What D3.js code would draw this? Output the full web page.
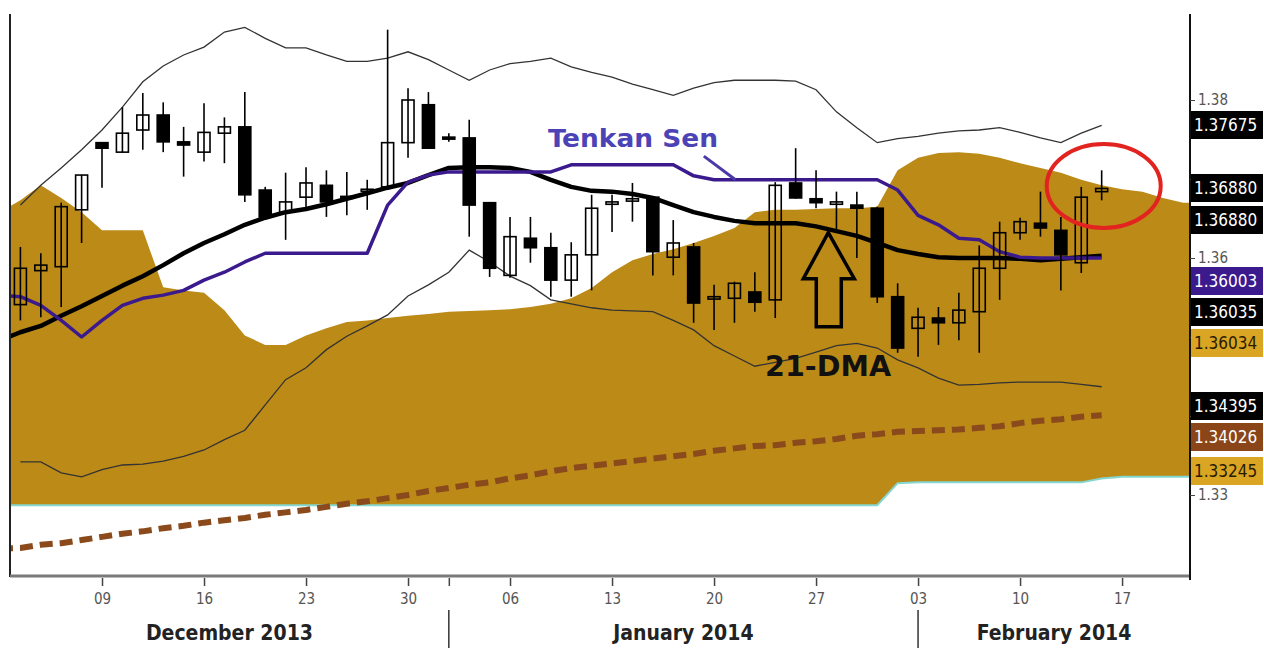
<!DOCTYPE html>
<html>
<head>
<meta charset="utf-8">
<script src="https://cdn.jsdelivr.net/npm/d3@7"></script>
<style>
  body { margin: 0; background: #fff; }
  svg { display: block; }
  text { font-family: "Liberation Sans Narrow", "DejaVu Sans Condensed", "Arial Narrow", sans-serif; }
</style>
</head>
<body>
<div id="chart"></div>
<script>
// trading days (weekdays) from Mon 2 Dec 2013 to Fri 21 Feb 2014
const days = d3.utcDay.range(new Date(Date.UTC(2013, 11, 2)), new Date(Date.UTC(2014, 1, 22)))
  .filter(d => d.getUTCDay() !== 0 && d.getUTCDay() !== 6);

// candles: 3 Dec 2013 .. 14 Feb 2014 (index 1..54)
const candleOpen = [1.3541,1.3584,1.3589,1.3661,1.3746,1.3734,1.3762,1.3781,1.3747,1.3734,
  1.3758,1.3766,1.3686,1.3658,1.3677,1.3692,1.3678,1.3685,1.3690,1.3746,
  1.3794,1.3753,1.3752,1.3670,1.3578,1.3625,1.3613,1.3572,1.3604,1.3668,
  1.3672,1.3677,1.3601,1.3614,1.3548,1.3549,1.3557,1.3547,1.3695,1.3675,
  1.3668,1.3667,1.3663,1.3551,1.3511,1.3524,1.3518,1.3532,1.3587,1.3632,
  1.3644,1.3635,1.3594,1.3684];
const candleHigh = [1.3614,1.3606,1.3670,1.3705,1.3746,1.3791,1.3809,1.3797,1.3766,1.3796,
  1.3778,1.3810,1.3690,1.3708,1.3715,1.3711,1.3709,1.3699,1.3889,1.3815,
  1.3810,1.3758,1.3775,1.3671,1.3652,1.3652,1.3632,1.3620,1.3680,1.3680,
  1.3695,1.3678,1.3648,1.3619,1.3566,1.3570,1.3582,1.3696,1.3739,1.3711,
  1.3684,1.3684,1.3665,1.3568,1.3537,1.3538,1.3556,1.3616,1.3646,1.3651,
  1.3684,1.3652,1.3690,1.3711];
const candleLow = [1.3521,1.3525,1.3538,1.3619,1.3689,1.3733,1.3737,1.3734,1.3703,1.3722,
  1.3720,1.3671,1.3651,1.3623,1.3661,1.3652,1.3654,1.3661,1.3686,1.3727,
  1.3738,1.3747,1.3627,1.3576,1.3575,1.3594,1.3551,1.3551,1.3559,1.3633,
  1.3646,1.3578,1.3578,1.3518,1.3509,1.3518,1.3532,1.3524,1.3675,1.3663,
  1.3635,1.3600,1.3543,1.3480,1.3475,1.3490,1.3496,1.3480,1.3547,1.3623,
  1.3627,1.3559,1.3581,1.3673];
const candleClose = [1.3587,1.3591,1.3665,1.3705,1.3739,1.3758,1.3781,1.3747,1.3743,1.3759,
  1.3766,1.3680,1.3652,1.3671,1.3695,1.3671,1.3676,1.3687,1.3746,1.3800,
  1.3739,1.3752,1.3667,1.3587,1.3627,1.3613,1.3572,1.3604,1.3663,1.3671,
  1.3675,1.3608,1.3619,1.3543,1.3551,1.3568,1.3544,1.3692,1.3676,1.3670,
  1.3671,1.3663,1.3551,1.3486,1.3525,1.3518,1.3534,1.3587,1.3632,1.3646,
  1.3638,1.3604,1.3677,1.3688];

// bollinger bands, index 1..54
const bandUpper = [1.3667,1.3692,1.3714,1.3737,1.3762,1.3791,1.3823,1.3843,1.3857,1.3867,
  1.3886,1.3892,1.3878,1.3866,1.3866,1.3857,1.3849,1.3849,1.3853,1.3861,
  1.3851,1.3838,1.3825,1.3838,1.3846,1.3849,1.3853,1.3842,1.3835,1.3829,
  1.3820,1.3813,1.3806,1.3815,1.3822,1.3825,1.3825,1.3825,1.3824,1.3813,
  1.3785,1.3765,1.3746,1.3751,1.3754,1.3758,1.3761,1.3762,1.3765,1.3759,
  1.3752,1.3746,1.3758,1.3768];
const bandLower = [1.3342,1.3342,1.3328,1.3323,1.3332,1.3338,1.3339,1.3343,1.3349,1.3357,
  1.3370,1.3382,1.3414,1.3446,1.3461,1.3484,1.3501,1.3514,1.3528,1.3552,
  1.3566,1.3582,1.3610,1.3595,1.3577,1.3565,1.3547,1.3542,1.3537,1.3534,
  1.3533,1.3532,1.3521,1.3509,1.3489,1.3476,1.3463,1.3468,1.3473,1.3481,
  1.3489,1.3492,1.3486,1.3471,1.3461,1.3448,1.3439,1.3440,1.3442,1.3443,
  1.3443,1.3443,1.3440,1.3437];

// 21-DMA, Tenkan Sen and long trend line, index 0..54
const dma21 = [1.3496,1.3506,1.3514,1.3527,1.3539,1.3552,1.3565,1.3577,1.3591,1.3606,
  1.3619,1.3630,1.3642,1.3651,1.3658,1.3662,1.3668,1.3675,1.3682,1.3689,
  1.3695,1.3705,1.3714,1.3715,1.3715,1.3714,1.3709,1.3699,1.3690,1.3685,
  1.3684,1.3681,1.3676,1.3667,1.3658,1.3652,1.3647,1.3644,1.3644,1.3644,
  1.3640,1.3634,1.3628,1.3619,1.3610,1.3605,1.3601,1.3600,1.3600,1.3600,
  1.3599,1.3597,1.3599,1.3601,1.3603];
const tenkan = [1.3553,1.3551,1.3540,1.3521,1.3500,1.3521,1.3540,1.3549,1.3553,1.3559,
  1.3572,1.3582,1.3595,1.3606,1.3606,1.3606,1.3606,1.3606,1.3606,1.3667,
  1.3696,1.3705,1.3709,1.3709,1.3709,1.3709,1.3709,1.3709,1.3718,1.3718,
  1.3718,1.3718,1.3718,1.3718,1.3704,1.3699,1.3699,1.3699,1.3699,1.3699,
  1.3699,1.3699,1.3699,1.3699,1.3686,1.3654,1.3642,1.3625,1.3623,1.3608,
  1.3601,1.3600,1.3600,1.3600,1.3600];
const trendLine = [1.3232,1.3233,1.3237,1.3239,1.3243,1.3247,1.3251,1.3254,1.3258,1.3261,
  1.3265,1.3268,1.3271,1.3275,1.3278,1.3281,1.3285,1.3289,1.3292,1.3296,
  1.3300,1.3305,1.3309,1.3313,1.3316,1.3321,1.3325,1.3330,1.3334,1.3337,
  1.3340,1.3343,1.3346,1.3349,1.3352,1.3356,1.3359,1.3362,1.3363,1.3366,
  1.3368,1.3371,1.3375,1.3377,1.3380,1.3381,1.3382,1.3383,1.3385,1.3387,
  1.3391,1.3394,1.3396,1.3399,1.3401];

// ichimoku cloud, index 0..59 (projected forward)
const cloudTop = [1.3658,1.3673,1.3692,1.3676,1.3658,1.3635,1.3635,1.3635,1.3563,1.3559,
  1.3556,1.3534,1.3502,1.3490,1.3490,1.3502,1.3511,1.3519,1.3521,1.3524,
  1.3527,1.3529,1.3532,1.3533,1.3534,1.3535,1.3538,1.3542,1.3549,1.3562,
  1.3582,1.3597,1.3605,1.3611,1.3619,1.3628,1.3638,1.3658,1.3661,1.3661,
  1.3662,1.3663,1.3663,1.3665,1.3711,1.3727,1.3733,1.3734,1.3732,1.3727,
  1.3720,1.3714,1.3708,1.3699,1.3692,1.3687,1.3684,1.3676,1.3670,1.3670];
const cloudBottom = [1.3287,1.3287,1.3287,1.3287,1.3287,1.3287,1.3287,1.3287,1.3287,1.3287,
  1.3287,1.3287,1.3287,1.3287,1.3287,1.3287,1.3287,1.3287,1.3287,1.3287,
  1.3287,1.3287,1.3287,1.3287,1.3287,1.3287,1.3287,1.3287,1.3287,1.3287,
  1.3287,1.3287,1.3287,1.3287,1.3287,1.3287,1.3287,1.3287,1.3287,1.3287,
  1.3287,1.3287,1.3287,1.3287,1.3315,1.3316,1.3316,1.3316,1.3316,1.3316,
  1.3316,1.3316,1.3316,1.3316,1.3321,1.3323,1.3323,1.3323,1.3323,1.3323];

const yTicks = [1.38, 1.37, 1.36, 1.35, 1.34, 1.33];
const yTickLabels = [1.38, 1.36, 1.33]; // the rest sit behind the value boxes
const priceLabels = ["1.37675", "1.36880", "1.36880", "1.36003", "1.36035", "1.36034", "1.34395", "1.34026", "1.33245"];
const labelColors = ["#000", "#000", "#000", "#3b1a8e", "#000", "#d9a522", "#000", "#8a4518", "#d9a522"];
const labelSlots = [125, 188, 220, 281, 312, 343, 406, 437, 471];

const width = 1264, height = 648;
const x = d3.scaleLinear().domain([0.49, 58.33]).range([10, 1190]);
const y = d3.scaleLinear().domain([1.33, 1.38]).range([495, 100]);

const svg = d3.select("#chart").append("svg")
  .attr("width", width)
  .attr("height", height);
svg.append("rect").attr("width", width).attr("height", height).attr("fill", "#fff");

svg.append("defs").append("clipPath").attr("id", "plotClip")
  .append("rect").attr("x", 10).attr("y", 14).attr("width", 1180).attr("height", 561);
const plot = svg.append("g").attr("clip-path", "url(#plotClip)");

// cloud
const cloud = cloudTop.map((v, k) => ({ k, top: v, bot: cloudBottom[k] }));
plot.append("path").datum(cloud)
  .attr("fill", "#bc8a17")
  .attr("d", d3.area().x(d => x(d.k)).y0(d => y(d.bot)).y1(d => y(d.top)));
plot.append("path").datum(cloud)
  .attr("fill", "none").attr("stroke", "#84d6d0").attr("stroke-width", 2)
  .attr("d", d3.line().x(d => x(d.k)).y(d => y(d.bot)));

const line = d3.line().x(d => x(d.k)).y(d => y(d.v));
const series = (arr, start) => arr.map((v, i) => ({ k: i + start, v }));

// long-term trend (dashed brown)
plot.append("path").datum(series(trendLine, 0))
  .attr("fill", "none").attr("stroke", "#8a4a1c").attr("stroke-width", 6)
  .attr("stroke-dasharray", "13,7").attr("d", line);

// bollinger bands
[bandUpper, bandLower].forEach(b => {
  plot.append("path").datum(series(b, 1))
    .attr("fill", "none").attr("stroke", "#333").attr("stroke-width", 1.3)
    .attr("d", line);
});

// 21-DMA
plot.append("path").datum(series(dma21, 0))
  .attr("fill", "none").attr("stroke", "#000").attr("stroke-width", 4.5)
  .attr("stroke-linejoin", "round").attr("d", line);

// Tenkan Sen
plot.append("path").datum(series(tenkan, 0))
  .attr("fill", "none").attr("stroke", "#3b1a8e").attr("stroke-width", 3.5)
  .attr("stroke-linejoin", "round").attr("d", line);

// candles
const candles = candleOpen.map((o, i) => ({
  k: i + 1, o, h: candleHigh[i], l: candleLow[i], c: candleClose[i]
}));
const cg = plot.append("g").selectAll("g").data(candles).join("g");
cg.append("line")
  .attr("x1", d => x(d.k)).attr("x2", d => x(d.k))
  .attr("y1", d => y(d.h)).attr("y2", d => y(d.l))
  .attr("stroke", "#000").attr("stroke-width", 1.6);
cg.append("rect")
  .attr("x", d => x(d.k) - 6).attr("width", 12)
  .attr("y", d => y(Math.max(d.o, d.c)))
  .attr("height", d => Math.max(2, Math.abs(y(d.o) - y(d.c))))
  .attr("fill", d => d.c >= d.o ? "none" : "#000")
  .attr("stroke", "#000").attr("stroke-width", 1.6);

// frame
svg.append("line").attr("x1", 10).attr("x2", 10).attr("y1", 14).attr("y2", 577)
  .attr("stroke", "#222").attr("stroke-width", 2);
svg.append("line").attr("x1", 10).attr("x2", 1190).attr("y1", 576).attr("y2", 576)
  .attr("stroke", "#7a7a7a").attr("stroke-width", 3);
svg.append("line").attr("x1", 1190).attr("x2", 1190).attr("y1", 14).attr("y2", 580)
  .attr("stroke", "#111").attr("stroke-width", 2);

// x axis
const mondays = days.map((d, k) => k).filter(k => k > 0 && days[k].getUTCDay() === 1);
const monthStarts = days.map((d, k) => k).filter(k => k > 0 && days[k].getUTCMonth() !== days[k - 1].getUTCMonth());
const xTicks = Array.from(new Set(mondays.concat(monthStarts))).sort((a, b) => a - b);
const xAxis = svg.append("g").attr("transform", "translate(0,578)")
  .call(d3.axisBottom(x).tickValues(xTicks).tickSize(8).tickSizeOuter(0)
    .tickFormat(k => days[k].getUTCDay() === 1 ? d3.utcFormat("%d")(days[k]) : ""));
xAxis.select(".domain").remove();
xAxis.selectAll("line").attr("stroke", "#444").attr("stroke-width", 1.5);
xAxis.selectAll("text").attr("y", 13).attr("dy", "0.85em")
  .attr("font-size", 15).attr("fill", "#555");

// month labels
const monthBounds = [10].concat(monthStarts.map(k => x(k)), [1190]);
const monthNames = monthBounds.slice(0, -1).map((b, i) =>
  d3.utcFormat("%B %Y")(days[i === 0 ? 1 : monthStarts[i - 1]]));
svg.append("g").selectAll("text").data(monthNames).join("text")
  .attr("x", (d, i) => (monthBounds[i] + monthBounds[i + 1]) / 2)
  .attr("y", 640)
  .attr("text-anchor", "middle")
  .attr("font-size", 21).attr("font-weight", "bold").attr("fill", "#222")
  .text(d => d);
svg.append("g").selectAll("line").data(monthStarts).join("line")
  .attr("x1", k => x(k)).attr("x2", k => x(k))
  .attr("y1", 610).attr("y2", 648)
  .attr("stroke", "#333").attr("stroke-width", 1.5);

// y axis (right)
const yAxis = svg.append("g").attr("transform", "translate(1190,0)")
  .call(d3.axisRight(y).tickValues(yTicks).tickSize(5)
    .tickFormat(v => yTickLabels.includes(v) ? d3.format(".2f")(v) : ""));
yAxis.select(".domain").remove();
yAxis.selectAll("line").attr("stroke", "#444");
yAxis.selectAll("text").attr("font-size", 15).attr("fill", "#555");

// value boxes
const boxes = svg.append("g").selectAll("g").data(priceLabels).join("g")
  .attr("transform", (d, i) => `translate(1191,${labelSlots[i]})`);
boxes.append("rect")
  .attr("x", 0).attr("y", -14).attr("width", 72).attr("height", 28)
  .attr("fill", (d, i) => labelColors[i]);
boxes.append("text")
  .attr("x", 3).attr("dy", "0.36em")
  .attr("font-size", 17)
  .attr("fill", (d, i) => labelColors[i] === "#d9a522" ? "#2a1a00" : "#fff")
  .text(d => d);

// annotations
const ann = svg.append("g");
ann.append("text")
  .attr("x", x(26.86)).attr("y", y(1.37405))
  .attr("font-family", "'Open Sans', 'DejaVu Sans', sans-serif")
  .attr("font-size", 25).attr("font-weight", "bold").attr("fill", "#4b43b6")
  .attr("textLength", 170).attr("lengthAdjust", "spacingAndGlyphs")
  .text("Tenkan Sen");
ann.append("line")
  .attr("x1", x(34.5)).attr("y1", y(1.3729))
  .attr("x2", x(36.05)).attr("y2", y(1.3699))
  .attr("stroke", "#4a3aa8").attr("stroke-width", 3);
ann.append("text")
  .attr("x", x(37.5)).attr("y", y(1.34506))
  .attr("font-family", "'Open Sans', 'DejaVu Sans', sans-serif")
  .attr("font-size", 28).attr("font-weight", "bold").attr("fill", "#111")
  .attr("textLength", 126).attr("lengthAdjust", "spacingAndGlyphs")
  .text("21-DMA");

// up arrow pointing at the 21-DMA
const tipX = x(40.6), tipY = y(1.3632);
const arrowPts = [[0, 0], [26, 46], [13, 46], [13, 94], [-12, 94], [-12, 46], [-25, 46]];
ann.append("polygon")
  .attr("points", arrowPts.map(p => [tipX + p[0], tipY + p[1]].join(",")).join(" "))
  .attr("fill", "none").attr("stroke", "#000").attr("stroke-width", 3.5)
  .attr("stroke-linejoin", "miter");

// red ring round the last candle
ann.append("ellipse")
  .attr("cx", x(54.1)).attr("cy", y(1.36911))
  .attr("rx", 57).attr("ry", 42)
  .attr("fill", "none").attr("stroke", "#e2231f").attr("stroke-width", 4);
</script>
</body>
</html>
